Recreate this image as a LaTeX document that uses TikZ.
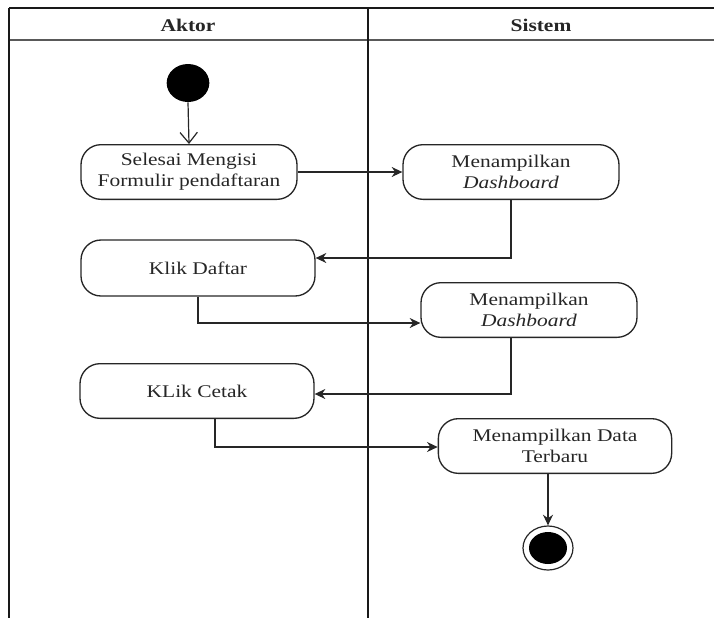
\documentclass[tikz,border=0pt]{standalone}
\usepackage{fontspec}
\setmainfont{Liberation Serif}[FakeStretch=1.2]
\usetikzlibrary{arrows.meta,calc,shapes.geometric}
\begin{document}
\begin{tikzpicture}[x=0.75pt,y=-0.75pt,
  every node/.style={font=\fontsize{13.4pt}{15.5pt}\selectfont, text=black!85},
  act/.style={draw=black!85, line width=1pt, rounded corners=15pt, align=center, inner sep=0pt, minimum height=41pt},
  head/.style={font=\fontsize{13.4pt}{15.5pt}\selectfont\bfseries, text=black!85},
  flow/.style={draw=black!85, line width=0.9pt, -{Stealth[length=8pt,width=7.5pt]}},
  lane/.style={draw=black!90, line width=1.3pt}
]
\useasboundingbox (0,0) rectangle (714,618);
% swimlane frame
\draw[lane] (9,8) -- (714,8);
\draw[lane, draw=black!65] (9,40) -- (714,40);
\draw[lane] (9,8) -- (9,618);
\draw[lane] (368,8) -- (368,618);
\node[head] (haktor) at (188,25) {Aktor};
\node[head] (hsistem) at (541,25) {Sistem};

% nodes
\node[ellipse, fill=black, minimum width=32pt, minimum height=28.5pt, inner sep=0pt] (start) at (188,83) {};
\node[act, minimum width=162pt] (b1) at (189,172) {Selesai Mengisi\\Formulir pendaftaran};
\node[act, minimum width=162pt] (b3) at (511,172) {Menampilkan\\\textit{Dashboard}};
\node[act, minimum width=175.5pt, minimum height=42pt] (b2) at (198,268) {Klik Daftar};
\node[act, minimum width=162pt] (b4) at (529,310) {Menampilkan\\\textit{Dashboard}};
\node[act, minimum width=175.5pt] (b5) at (197,391) {KLik Cetak};
\node[act, minimum width=175pt] (b6) at (555,446) {Menampilkan Data\\Terbaru};
\node[ellipse, draw=black!85, line width=0.9pt, minimum width=37.5pt, minimum height=33pt, inner sep=0pt] (end) at (548,548) {};
\node[ellipse, fill=black, minimum width=28.5pt, minimum height=24pt, inner sep=0pt] (endin) at (548,548) {};

% connectors
\draw[draw=black!85, line width=0.9pt, -{Straight Barb[length=8pt,width=13pt]}] (start.south) -- (b1.north);
\draw[flow] (b1.east) -- (b3.west);
\draw[flow] (b3.south) |- ($(b2.east)+(0,-10)$);
\draw[flow] (b2.south) |- ($(b4.west)+(0,13)$);
\draw[flow] ($(b4.south)+(-18,0)$) |- ($(b5.east)+(0,3)$);
\draw[flow] ($(b5.south)+(18,0)$) |- ($(b6.west)+(0,1)$);
\draw[flow] (end |- b6.south) -- (end.north);
\end{tikzpicture}
\end{document}
